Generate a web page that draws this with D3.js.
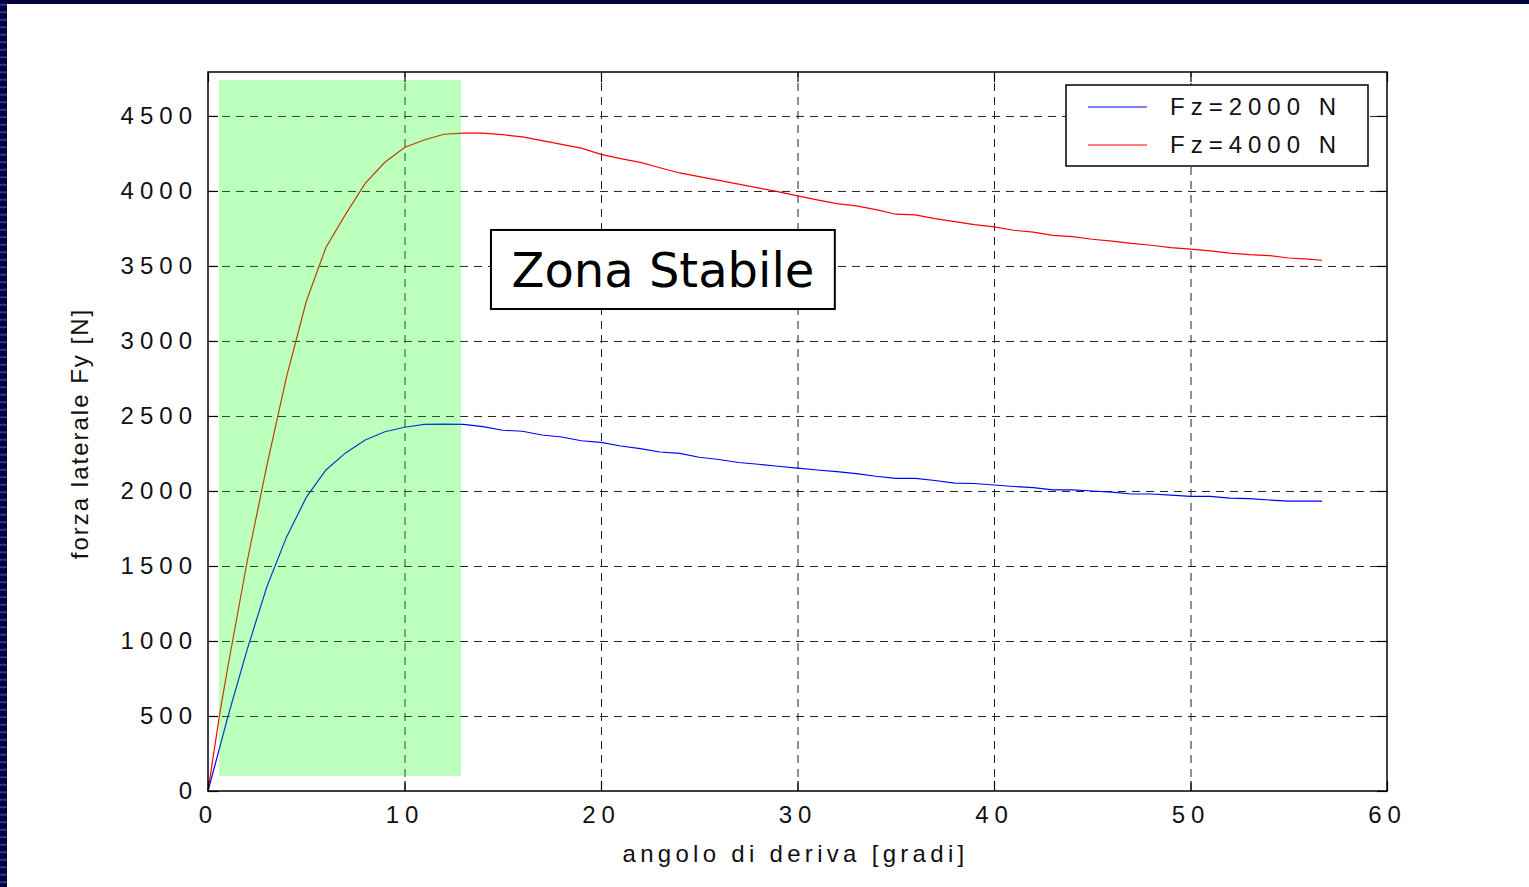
<!DOCTYPE html>
<html>
<head>
<meta charset="utf-8">
<script src="https://cdn.jsdelivr.net/npm/d3@7"></script>
<style>
  body { margin: 0; background: #fff; }
  svg { display: block; }
</style>
</head>
<body>
<svg></svg>
<script>
// angolo di deriva [gradi]
var angles = [0, 0.6, 1, 2, 3, 4, 5, 6, 7, 8, 9, 10, 11, 12, 13, 14, 15, 16, 17, 18, 19,
  20, 21, 22, 23, 24, 25, 26, 27, 28, 29, 30, 31, 32, 33, 34, 35, 36, 37, 38, 39,
  40, 41, 42, 43, 44, 45, 46, 47, 48, 49, 50, 51, 52, 53, 54, 55, 56, 56.7];

// Fz = 2000 N
var fy2000 = [0, 293, 490, 946, 1363, 1694, 1957, 2140, 2254, 2340, 2395, 2425, 2444, 2446, 2444,
  2429, 2405, 2398, 2373, 2360, 2335, 2324, 2300, 2282, 2260, 2251, 2225, 2210, 2190, 2178,
  2165, 2152, 2140, 2129, 2116, 2098, 2084, 2084, 2070, 2052, 2050, 2040, 2030, 2022, 2007,
  2007, 2000, 1993, 1980, 1980, 1972, 1964, 1964, 1952, 1949, 1940, 1933, 1933, 1933];

// Fz = 4000 N
var fy4000 = [0, 518, 820, 1535, 2173, 2762, 3263, 3623, 3844, 4050, 4191, 4290, 4340, 4378, 4385,
  4385, 4375, 4360, 4335, 4310, 4285, 4244, 4215, 4190, 4155, 4120, 4095, 4070, 4045, 4020,
  3995, 3967, 3940, 3915, 3900, 3875, 3845, 3840, 3815, 3795, 3775, 3760, 3738, 3725, 3704,
  3695, 3678, 3665, 3650, 3638, 3622, 3612, 3600, 3586, 3575, 3569, 3553, 3545, 3538];

var xTicks = [0, 10, 20, 30, 40, 50, 60];
var yTicks = [0, 500, 1000, 1500, 2000, 2500, 3000, 3500, 4000, 4500];
var seriesNames = ["Fz=2000 N", "Fz=4000 N"];

// zona stabile (gradi, N)
var zoneAngle = [0.56, 12.88];
var zoneForce = [100, 4740];
var zoneLabel = "Zona Stabile";

var width = 1529;
var height = 887;
var plotL = 208, plotR = 1387, plotT = 72, plotB = 791;

var svg = d3.select("svg")
    .attr("width", width)
    .attr("height", height);

// slide border
var defs = svg.append("defs");
var pat = defs.append("pattern")
    .attr("id", "stripes")
    .attr("width", 8).attr("height", 7.5)
    .attr("patternUnits", "userSpaceOnUse");
pat.append("rect").attr("width", 8).attr("height", 7.5).attr("fill", "#02023e");
pat.append("rect").attr("y", 4).attr("width", 8).attr("height", 1.6).attr("fill", "#3a3a9c");

svg.append("rect").attr("x", 0).attr("y", 0).attr("width", width).attr("height", 4).attr("fill", "#02023e");
svg.append("rect").attr("x", 0).attr("y", 0).attr("width", 7).attr("height", height).attr("fill", "url(#stripes)");

var xScale = d3.scaleLinear().domain([0, 60]).range([plotL, plotR]);
var yScale = d3.scaleLinear().domain([0, 4793]).range([plotB, plotT]);

var tickFont = "'Liberation Sans', Arial, sans-serif";

// grid
svg.append("g")
    .attr("transform", "translate(0," + plotB + ")")
    .call(d3.axisBottom(xScale).tickValues(xTicks.slice(1, -1)).tickSize(-(plotB - plotT)).tickFormat(""))
    .call(g => g.select(".domain").remove())
    .selectAll("line")
      .attr("stroke", "#222")
      .attr("stroke-dasharray", "8,6");

svg.append("g")
    .attr("transform", "translate(" + plotL + ",0)")
    .call(d3.axisLeft(yScale).tickValues(yTicks.slice(1)).tickSize(-(plotR - plotL)).tickFormat(""))
    .call(g => g.select(".domain").remove())
    .selectAll("line")
      .attr("stroke", "#222")
      .attr("stroke-dasharray", "8,6");

// curves
var line = d3.line()
    .x((d, i) => xScale(angles[i]))
    .y(d => yScale(d));

svg.append("path")
    .datum(fy2000)
    .attr("d", line)
    .attr("fill", "none")
    .attr("stroke", "#0000ff")
    .attr("stroke-width", 1.2);

svg.append("path")
    .datum(fy4000)
    .attr("d", line)
    .attr("fill", "none")
    .attr("stroke", "#ff0000")
    .attr("stroke-width", 1.2);

// stable zone overlay
svg.append("rect")
    .attr("x", xScale(zoneAngle[0]))
    .attr("y", yScale(zoneForce[1]))
    .attr("width", xScale(zoneAngle[1]) - xScale(zoneAngle[0]))
    .attr("height", yScale(zoneForce[0]) - yScale(zoneForce[1]))
    .attr("fill", "#00ff00")
    .attr("fill-opacity", 0.26);

// axes with inward ticks
function styleAxis(g) {
  g.select(".domain").remove();
  g.selectAll("line").attr("stroke", "#000").attr("stroke-width", 1.2);
  g.selectAll("text")
    .style("font-family", tickFont)
    .style("font-size", "24px")
    .style("letter-spacing", "6px")
    .attr("fill", "#111");
}

svg.append("g")
    .attr("transform", "translate(" + plotL + ",0)")
    .call(d3.axisLeft(yScale).tickValues(yTicks).tickSize(-10).tickPadding(10).tickFormat(d3.format("d")))
    .call(styleAxis);

svg.append("g")
    .attr("transform", "translate(" + plotR + ",0)")
    .call(d3.axisRight(yScale).tickValues(yTicks).tickSize(-10).tickFormat(""))
    .call(styleAxis);

svg.append("g")
    .attr("transform", "translate(0," + plotB + ")")
    .call(d3.axisBottom(xScale).tickValues(xTicks).tickSize(-10).tickPadding(15))
    .call(styleAxis);

svg.append("g")
    .attr("transform", "translate(0," + plotT + ")")
    .call(d3.axisTop(xScale).tickValues(xTicks).tickSize(-10).tickFormat(""))
    .call(styleAxis);

svg.append("rect")
    .attr("x", plotL).attr("y", plotT)
    .attr("width", plotR - plotL).attr("height", plotB - plotT)
    .attr("fill", "none")
    .attr("stroke", "#000")
    .attr("stroke-width", 1.5);

// axis labels
svg.append("text")
    .text("angolo di deriva [gradi]")
    .attr("x", (plotL + plotR) / 2 - 2)
    .attr("y", 862)
    .style("text-anchor", "middle")
    .style("font-family", tickFont)
    .style("font-size", "24px")
    .style("letter-spacing", "4.3px")
    .attr("fill", "#111");

svg.append("text")
    .text("forza laterale Fy [N]")
    .attr("transform", "translate(88," + ((plotT + plotB) / 2 + 2) + ") rotate(-90)")
    .style("text-anchor", "middle")
    .style("font-family", tickFont)
    .style("font-size", "24px")
    .style("letter-spacing", "2px")
    .attr("fill", "#111");

// zone label box
var bx0 = xScale(14.4), bx1 = xScale(31.9);
var by0 = yScale(3740), by1 = yScale(3213);
svg.append("rect")
    .attr("x", bx0).attr("y", by0)
    .attr("width", bx1 - bx0).attr("height", by1 - by0)
    .attr("fill", "#fff")
    .attr("stroke", "#000")
    .attr("stroke-width", 2);

svg.append("text")
    .text(zoneLabel)
    .attr("x", (bx0 + bx1) / 2)
    .attr("y", by0 + 57)
    .style("text-anchor", "middle")
    .style("font-family", "'DejaVu Sans', Verdana, sans-serif")
    .style("font-size", "48px")
    .attr("fill", "#000");

// legend
var legend = svg.append("g").attr("transform", "translate(1066,85)");
legend.append("rect")
    .attr("width", 302).attr("height", 81)
    .attr("fill", "#fff")
    .attr("stroke", "#000")
    .attr("stroke-width", 1.5);

var legendColors = ["#0000ff", "#ff0000"];
seriesNames.forEach(function(name, i) {
  var y = 22 + i * 38;
  legend.append("line")
      .attr("x1", 22).attr("x2", 81)
      .attr("y1", y).attr("y2", y)
      .attr("stroke", legendColors[i])
      .attr("stroke-width", 1.2);
  legend.append("text")
      .text(name)
      .attr("x", 104)
      .attr("y", y + 8)
      .style("font-family", tickFont)
      .style("font-size", "24px")
      .style("letter-spacing", "6px")
      .attr("fill", "#111");
});
</script>
</body>
</html>
